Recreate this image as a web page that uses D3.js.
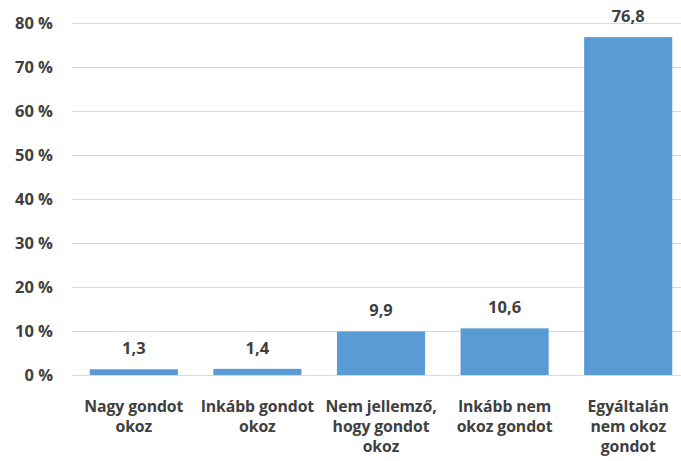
<!DOCTYPE html>
<html><head><meta charset="utf-8">
<script src="https://cdn.jsdelivr.net/npm/d3@7"></script>
<style>
html,body{margin:0;padding:0;background:#fff;}
svg text{font-family:"Open Sans",sans-serif;font-weight:bold;fill:#404040;}
</style></head>
<body><svg id="c" width="681" height="461"></svg>
<script>
const categories = [["Nagy gondot","okoz"],["Inkább gondot","okoz"],["Nem jellemző,","hogy gondot","okoz"],["Inkább nem","okoz gondot"],["Egyáltalán","nem okoz","gondot"]];
const values = [1.3, 1.4, 9.9, 10.6, 76.8];
const valueLabels = ["1,3","1,4","9,9","10,6","76,8"];
const yTicks = [0,10,20,30,40,50,60,70,80];

const svg = d3.select("#c");
const x = d3.scaleBand().domain(d3.range(values.length)).range([72,690]).paddingInner(0.287).paddingOuter(0.1435);
const y = d3.scaleLinear().domain([0,80]).range([375,23]);

const yAxis = d3.axisLeft(y).tickValues(yTicks).tickSize(-(681-72)).tickFormat(d=>d+" %");
const gy = svg.append("g").attr("transform","translate(72,0)").call(yAxis);
gy.select(".domain").remove();
gy.selectAll(".tick line").attr("stroke","#d9d9d9").attr("stroke-width",1);
gy.selectAll(".tick text").attr("x",-19).attr("font-size",16.5).attr("dy","0.35em");

svg.append("g").selectAll("rect").data(values).join("rect")
  .attr("x",(d,i)=>x(i)).attr("width",x.bandwidth())
  .attr("y",d=>y(d)).attr("height",d=>y(0)-y(d))
  .attr("fill","#5b9bd5");

svg.append("g").selectAll("text").data(values).join("text")
  .attr("x",(d,i)=>x(i)+x.bandwidth()/2).attr("y",d=>y(d)-15)
  .attr("text-anchor","middle").attr("font-size",16.5).text((d,i)=>valueLabels[i]);

const xg = svg.append("g");
categories.forEach((lines,i)=>{
  const cx = x(i)+x.bandwidth()/2;
  lines.forEach((l,j)=>xg.append("text").attr("text-anchor","middle").attr("font-size",15.8)
    .attr("letter-spacing",-0.1)
    .attr("x",cx).attr("y",412+j*20).text(l));
});
</script></body></html>
